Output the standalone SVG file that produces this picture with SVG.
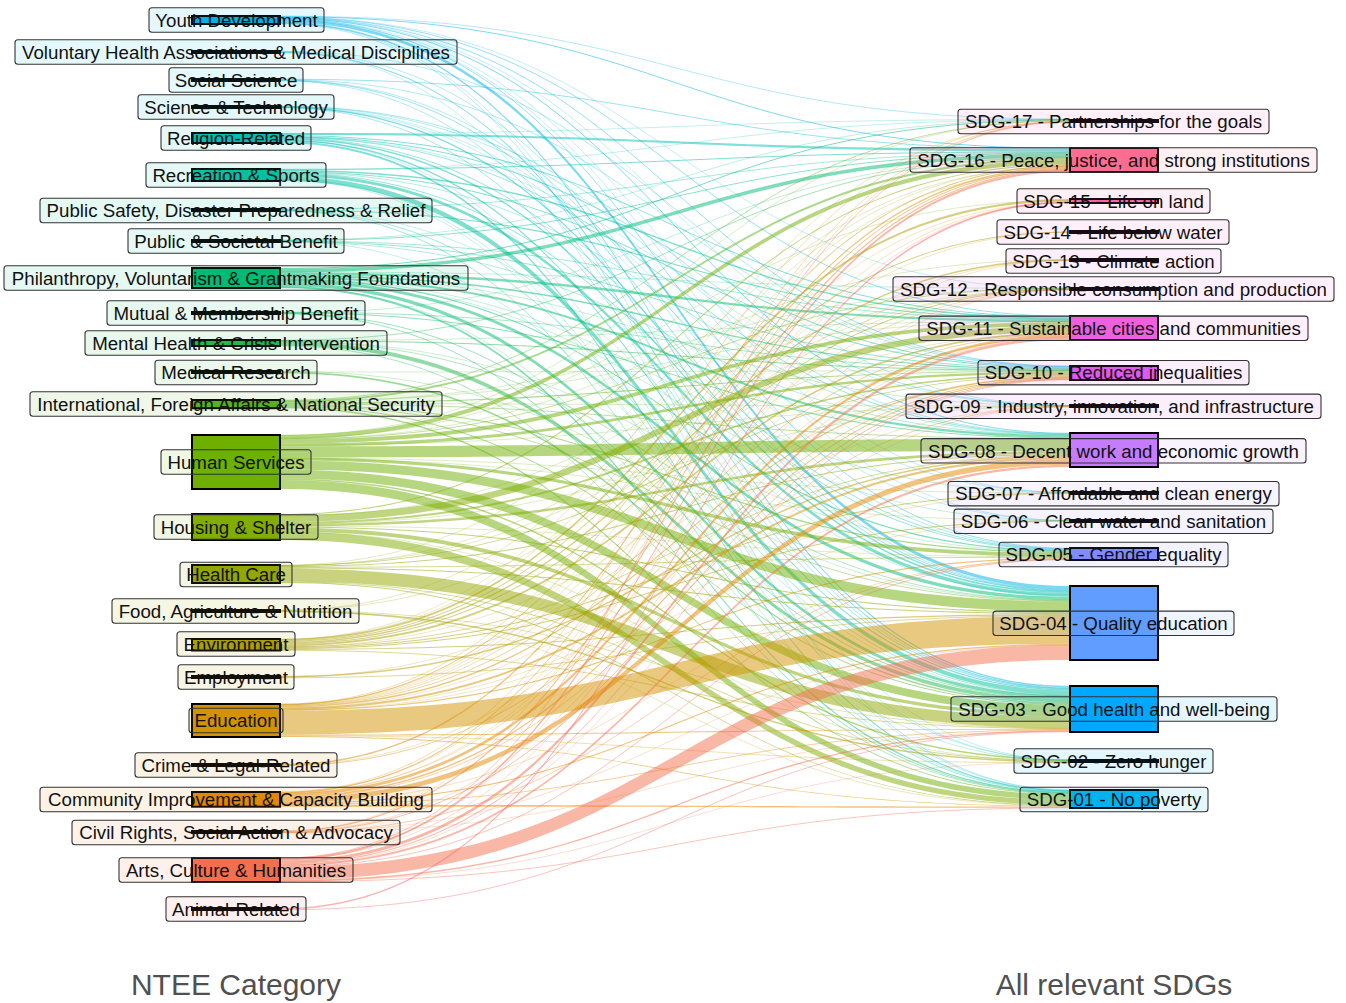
<svg xmlns="http://www.w3.org/2000/svg" width="1346" height="1003" viewBox="0 0 1346 1003">
<style>
.r{fill:currentColor;fill-opacity:.5;stroke:none}
.t{fill:none;stroke:currentColor;stroke-opacity:.5}
.h{fill:none;stroke:currentColor;stroke-opacity:.4;stroke-width:.6}
.n{stroke:#000;stroke-width:2}
.lb{stroke:#333;stroke-width:1.1;fill-opacity:.1}
.tx{font-family:"Liberation Sans",Arial,Helvetica,sans-serif;font-size:18.7px;fill:#111;text-anchor:middle}
.ax{font-family:"Liberation Sans",Arial,Helvetica,sans-serif;font-size:30px;fill:#505050;text-anchor:middle}
</style>
<rect width="1346" height="1003" fill="#fff"/>
<g id="connectors">
<g style="color:#00B2E6">
<path class="t" stroke-width=".6" d="M280 16.15C675 16.15 675 119.15 1070 119.15"/>
<path class="t" stroke-width="1" d="M280 16.65C675 16.65 675 148.38 1070 148.38"/>
<path class="t" stroke-width=".8" d="M280 17.25C675 17.25 675 316.23 1070 316.23"/>
<path class="t" stroke-width=".8" d="M280 17.75C675 17.75 675 366.19 1070 366.19"/>
<path class="t" stroke-width="1" d="M280 18.35C675 18.35 675 433.39 1070 433.39"/>
<path class="t" stroke-width=".8" d="M280 18.95C675 18.95 675 548.33 1070 548.33"/>
<path class="r" d="M280 19.2C675 19.2 675 586 1070 586L1070 589.48C675 589.48 675 22.2 280 22.2Z"/>
<path class="r" d="M280 22.2C675 22.2 675 686 1070 686L1070 687.34C675 687.34 675 23.7 280 23.7Z"/>
<path class="t" stroke-width=".6" d="M280 23.85C675 23.85 675 790.09 1070 790.09"/>
<path class="h" d="M280 17C675 17 675 289 1070 289"/>
<path class="h" d="M280 18C675 18 675 405.6 1070 405.6"/>
<path class="h" d="M280 19C675 19 675 492.6 1070 492.6"/>
<path class="h" d="M280 20C675 20 675 520.6 1070 520.6"/>
<path class="h" d="M280 23C675 23 675 760.4 1070 760.4"/>
</g>
<g style="color:#00B6E2">
<path class="t" stroke-width=".6" d="M280 51.3C675 51.3 675 366.5 1070 366.5"/>
<path class="t" stroke-width=".6" d="M280 51.7C675 51.7 675 589.66 1070 589.66"/>
<path class="r" d="M280 51.9C675 51.9 675 687.34 1070 687.34L1070 688.42C675 688.42 675 53.1 280 53.1Z"/>
<path class="h" d="M280 52C675 52 675 790.5 1070 790.5"/>
</g>
<g style="color:#00BAD6">
<path class="t" stroke-width=".8" d="M280 79.25C675 79.25 675 149.03 1070 149.03"/>
<path class="t" stroke-width=".6" d="M280 79.7C675 79.7 675 366.73 1070 366.73"/>
<path class="t" stroke-width=".6" d="M280 80C675 80 675 548.85 1070 548.85"/>
<path class="t" stroke-width=".8" d="M280 80.4C675 80.4 675 590.12 1070 590.12"/>
<path class="t" stroke-width=".6" d="M280 80.8C675 80.8 675 688.55 1070 688.55"/>
</g>
<g style="color:#00BCC8">
<path class="t" stroke-width=".7" d="M280 106.2C675 106.2 675 405.5 1070 405.5"/>
<path class="t" stroke-width=".6" d="M280 106.55C675 106.55 675 433.94 1070 433.94"/>
<path class="t" stroke-width="1.1" d="M280 107.1C675 107.1 675 590.88 1070 590.88"/>
<path class="t" stroke-width=".7" d="M280 107.7C675 107.7 675 688.86 1070 688.86"/>
<path class="h" d="M280 107C675 107 675 492.4 1070 492.4"/>
<path class="h" d="M280 107.5C675 107.5 675 520.4 1070 520.4"/>
</g>
<g style="color:#00BFB4">
<path class="r" d="M280 133C675 133 675 149.3 1070 149.3L1070 151.46C675 151.46 675 135 280 135Z"/>
<path class="r" d="M280 135C675 135 675 316.46 1070 316.46L1070 317.36C675 317.36 675 136 280 136Z"/>
<path class="r" d="M280 136C675 136 675 366.84 1070 366.84L1070 367.6C675 367.6 675 137 280 137Z"/>
<path class="t" stroke-width=".8" d="M280 137.25C675 137.25 675 434.38 1070 434.38"/>
<path class="t" stroke-width=".8" d="M280 137.75C675 137.75 675 549.37 1070 549.37"/>
<path class="r" d="M280 138C675 138 675 591.35 1070 591.35L1070 593.09C675 593.09 675 139.5 280 139.5Z"/>
<path class="r" d="M280 139.5C675 139.5 675 689.04 1070 689.04L1070 690.38C675 690.38 675 141 280 141Z"/>
<path class="r" d="M280 141C675 141 675 790.18 1070 790.18L1070 791.42C675 791.42 675 143 280 143Z"/>
<path class="h" d="M280 134C675 134 675 119.3 1070 119.3"/>
<path class="h" d="M280 137C675 137 675 405.7 1070 405.7"/>
<path class="h" d="M280 140C675 140 675 760.5 1070 760.5"/>
</g>
<g style="color:#00C1A2">
<path class="t" stroke-width="1" d="M280 169.35C675 169.35 675 151.84 1070 151.84"/>
<path class="r" d="M280 169.7C675 169.7 675 317.37 1070 317.37L1070 318.73C675 318.73 675 171.2 280 171.2Z"/>
<path class="r" d="M280 171.2C675 171.2 675 367.61 1070 367.61L1070 368.37C675 368.37 675 172.2 280 172.2Z"/>
<path class="t" stroke-width=".6" d="M280 172.35C675 172.35 675 434.83 1070 434.83"/>
<path class="t" stroke-width=".8" d="M280 172.75C675 172.75 675 550.02 1070 550.02"/>
<path class="r" d="M280 173C675 173 675 593.09 1070 593.09L1070 596.57C675 596.57 675 176 280 176Z"/>
<path class="r" d="M280 176C675 176 675 690.38 1070 690.38L1070 694.86C675 694.86 675 181 280 181Z"/>
<path class="h" d="M280 170C675 170 675 119.6 1070 119.6"/>
<path class="h" d="M280 179C675 179 675 760.3 1070 760.3"/>
<path class="h" d="M280 180C675 180 675 791 1070 791"/>
</g>
<g style="color:#00C094">
<path class="t" stroke-width=".7" d="M280 209.2C675 209.2 675 152.43 1070 152.43"/>
<path class="t" stroke-width="1.1" d="M280 209.8C675 209.8 675 319.09 1070 319.09"/>
<path class="t" stroke-width=".7" d="M280 210.4C675 210.4 675 695.04 1070 695.04"/>
<path class="t" stroke-width=".7" d="M280 210.8C675 210.8 675 791.55 1070 791.55"/>
<path class="h" d="M280 210C675 210 675 595 1070 595"/>
</g>
<g style="color:#00BF86">
<path class="t" stroke-width=".5" d="M280 240.1C675 240.1 675 119.4 1070 119.4"/>
<path class="t" stroke-width=".9" d="M280 240.5C675 240.5 675 152.97 1070 152.97"/>
<path class="t" stroke-width=".7" d="M280 241C675 241 675 319.64 1070 319.64"/>
<path class="t" stroke-width=".8" d="M280 241.45C675 241.45 675 368.56 1070 368.56"/>
<path class="t" stroke-width=".6" d="M280 241.85C675 241.85 675 435.16 1070 435.16"/>
<path class="h" d="M280 241C675 241 675 696 1070 696"/>
</g>
<g style="color:#00BC74">
<path class="r" d="M280 268C675 268 675 119.5 1070 119.5L1070 120.5C675 120.5 675 269 280 269Z"/>
<path class="r" d="M280 269C675 269 675 153.3 1070 153.3L1070 157.08C675 157.08 675 272.5 280 272.5Z"/>
<path class="r" d="M280 272.5C675 272.5 675 319.81 1070 319.81L1070 322.09C675 322.09 675 275 280 275Z"/>
<path class="r" d="M280 275C675 275 675 368.76 1070 368.76L1070 369.9C675 369.9 675 276.5 280 276.5Z"/>
<path class="r" d="M280 276.5C675 276.5 675 435.32 1070 435.32L1070 437.54C675 437.54 675 278.5 280 278.5Z"/>
<path class="r" d="M280 278.5C675 278.5 675 550.35 1070 550.35L1070 551.65C675 551.65 675 279.5 280 279.5Z"/>
<path class="r" d="M280 279.5C675 279.5 675 596.58 1070 596.58L1070 600.06C675 600.06 675 282.5 280 282.5Z"/>
<path class="r" d="M280 282.5C675 282.5 675 695.21 1070 695.21L1070 698.35C675 698.35 675 286 280 286Z"/>
<path class="r" d="M280 286C675 286 675 791.67 1070 791.67L1070 792.91C675 792.91 675 288 280 288Z"/>
<path class="h" d="M280 272C675 272 675 288.4 1070 288.4"/>
<path class="h" d="M280 276C675 276 675 405.8 1070 405.8"/>
<path class="h" d="M280 279C675 279 675 492.6 1070 492.6"/>
<path class="h" d="M280 280C675 280 675 520.7 1070 520.7"/>
<path class="h" d="M280 287C675 287 675 760.6 1070 760.6"/>
</g>
<g style="color:#0BBA62">
<path class="t" stroke-width=".7" d="M280 312.2C675 312.2 675 370.05 1070 370.05"/>
<path class="t" stroke-width=".9" d="M280 312.7C675 312.7 675 437.87 1070 437.87"/>
<path class="t" stroke-width=".8" d="M280 313.25C675 313.25 675 698.57 1070 698.57"/>
<path class="t" stroke-width=".8" d="M280 313.75C675 313.75 675 793.06 1070 793.06"/>
<path class="h" d="M280 313C675 313 675 157 1070 157"/>
</g>
<g style="color:#22B84E">
<path class="t" stroke-width=".8" d="M280 340.25C675 340.25 675 157.35 1070 157.35"/>
<path class="t" stroke-width="1" d="M280 340.85C675 340.85 675 370.48 1070 370.48"/>
<path class="t" stroke-width=".7" d="M280 341.4C675 341.4 675 600.29 1070 600.29"/>
<path class="r" d="M280 341.6C675 341.6 675 698.8 1070 698.8L1070 702.38C675 702.38 675 345.6 280 345.6Z"/>
<path class="t" stroke-width=".7" d="M280 345.8C675 345.8 675 793.34 1070 793.34"/>
<path class="h" d="M280 340.5C675 340.5 675 321.5 1070 321.5"/>
<path class="h" d="M280 341C675 341 675 551.8 1070 551.8"/>
</g>
<g style="color:#40B638">
<path class="t" stroke-width=".5" d="M280 371.2C675 371.2 675 600.64 1070 600.64"/>
<path class="r" d="M280 371.4C675 371.4 675 702.37 1070 702.37L1070 703.99C675 703.99 675 373.2 280 373.2Z"/>
<path class="h" d="M280 372C675 372 675 370.8 1070 370.8"/>
</g>
<g style="color:#58B31E">
<path class="t" stroke-width=".8" d="M280 400.25C675 400.25 675 120.75 1070 120.75"/>
<path class="r" d="M280 400.5C675 400.5 675 157.62 1070 157.62L1070 159.78C675 159.78 675 402.5 280 402.5Z"/>
<path class="r" d="M280 402.5C675 402.5 675 370.75 1070 370.75L1070 371.51C675 371.51 675 403.5 280 403.5Z"/>
<path class="t" stroke-width=".5" d="M280 403.6C675 403.6 675 406 1070 406"/>
<path class="t" stroke-width=".8" d="M280 403.95C675 403.95 675 438.48 1070 438.48"/>
<path class="r" d="M280 404.2C675 404.2 675 551.65 1070 551.65L1070 552.95C675 552.95 675 405.2 280 405.2Z"/>
<path class="t" stroke-width=".8" d="M280 405.45C675 405.45 675 601.05 1070 601.05"/>
<path class="r" d="M280 405.7C675 405.7 675 703.99 1070 703.99L1070 704.89C675 704.89 675 406.7 280 406.7Z"/>
<path class="r" d="M280 406.7C675 406.7 675 793.47 1070 793.47L1070 794.39C675 794.39 675 408.2 280 408.2Z"/>
<path class="h" d="M280 401C675 401 675 321 1070 321"/>
<path class="h" d="M280 402C675 402 675 288.3 1070 288.3"/>
</g>
<g style="color:#6DB000">
<path class="r" d="M280 435C675 435 675 159.78 1070 159.78L1070 164.1C675 164.1 675 439 280 439Z"/>
<path class="t" stroke-width=".8" d="M280 439.25C675 439.25 675 288.2 1070 288.2"/>
<path class="r" d="M280 439.5C675 439.5 675 322.09 1070 322.09L1070 325.73C675 325.73 675 443.5 280 443.5Z"/>
<path class="r" d="M280 443.5C675 443.5 675 371.51 1070 371.51L1070 373.81C675 373.81 675 446.5 280 446.5Z"/>
<path class="r" d="M280 446.5C675 446.5 675 438.76 1070 438.76L1070 450.94C675 450.94 675 457.5 280 457.5Z"/>
<path class="r" d="M280 457.5C675 457.5 675 552.95 1070 552.95L1070 556.87C675 556.87 675 460.5 280 460.5Z"/>
<path class="r" d="M280 460.5C675 460.5 675 601.34 1070 601.34L1070 611.8C675 611.8 675 469.5 280 469.5Z"/>
<path class="r" d="M280 469.5C675 469.5 675 704.88 1070 704.88L1070 712.94C675 712.94 675 478.5 280 478.5Z"/>
<path class="r" d="M280 478.5C675 478.5 675 759.15 1070 759.15L1070 760.65C675 760.65 675 480 280 480Z"/>
<path class="r" d="M280 480C675 480 675 794.39 1070 794.39L1070 799.97C675 799.97 675 489 280 489Z"/>
<path class="h" d="M280 435.3C675 435.3 675 120.3 1070 120.3"/>
<path class="h" d="M280 438C675 438 675 200.5 1070 200.5"/>
<path class="h" d="M280 439C675 439 675 259.6 1070 259.6"/>
<path class="h" d="M280 445C675 445 675 406.2 1070 406.2"/>
<path class="h" d="M280 458C675 458 675 493.2 1070 493.2"/>
<path class="h" d="M280 459C675 459 675 520.8 1070 520.8"/>
</g>
<g style="color:#82AC00">
<path class="r" d="M280 514C675 514 675 164.11 1070 164.11L1070 165.19C675 165.19 675 515 280 515Z"/>
<path class="r" d="M280 515C675 515 675 325.73 1070 325.73L1070 332.09C675 332.09 675 522 280 522Z"/>
<path class="r" d="M280 522C675 522 675 373.81 1070 373.81L1070 375.34C675 375.34 675 524 280 524Z"/>
<path class="r" d="M280 524C675 524 675 450.94 1070 450.94L1070 453.7C675 453.7 675 526.5 280 526.5Z"/>
<path class="r" d="M280 526.5C675 526.5 675 611.8 1070 611.8L1070 612.96C675 612.96 675 527.5 280 527.5Z"/>
<path class="r" d="M280 527.5C675 527.5 675 712.94 1070 712.94L1070 716.52C675 716.52 675 531.5 280 531.5Z"/>
<path class="r" d="M280 531.5C675 531.5 675 799.96 1070 799.96L1070 805.22C675 805.22 675 540 280 540Z"/>
<path class="h" d="M280 516C675 516 675 289.4 1070 289.4"/>
<path class="h" d="M280 524C675 524 675 406.3 1070 406.3"/>
<path class="h" d="M280 526C675 526 675 556.9 1070 556.9"/>
<path class="h" d="M280 532C675 532 675 761.2 1070 761.2"/>
</g>
<g style="color:#94A700">
<path class="r" d="M280 565C675 565 675 375.34 1070 375.34L1070 376.1C675 376.1 675 566 280 566Z"/>
<path class="r" d="M280 566C675 566 675 453.7 1070 453.7L1070 454.8C675 454.8 675 567 280 567Z"/>
<path class="t" stroke-width=".8" d="M280 567.25C675 567.25 675 557.19 1070 557.19"/>
<path class="r" d="M280 567.5C675 567.5 675 612.96 1070 612.96L1070 614.12C675 614.12 675 568.5 280 568.5Z"/>
<path class="r" d="M280 568.5C675 568.5 675 716.52 1070 716.52L1070 728.16C675 728.16 675 581.5 280 581.5Z"/>
<path class="t" stroke-width=".8" d="M280 581.75C675 581.75 675 760.9 1070 760.9"/>
<path class="r" d="M280 582C675 582 675 805.22 1070 805.22L1070 805.84C675 805.84 675 583 280 583Z"/>
<path class="h" d="M280 565.2C675 565.2 675 166.5 1070 166.5"/>
<path class="h" d="M280 565.5C675 565.5 675 333.5 1070 333.5"/>
<path class="h" d="M280 566C675 566 675 289.6 1070 289.6"/>
</g>
<g style="color:#A2A300">
<path class="t" stroke-width=".5" d="M280 610.2C675 610.2 675 288.6 1070 288.6"/>
<path class="t" stroke-width=".6" d="M280 610.6C675 610.6 675 728.29 1070 728.29"/>
<path class="r" d="M280 610.65C675 610.65 675 761.15 1070 761.15L1070 762.65C675 762.65 675 612.15 280 612.15Z"/>
<path class="h" d="M280 611C675 611 675 806 1070 806"/>
<path class="h" d="M280 610.4C675 610.4 675 166 1070 166"/>
</g>
<g style="color:#AEA000">
<path class="r" d="M280 639C675 639 675 199 1070 199L1070 201.28C675 201.28 675 641 280 641Z"/>
<path class="r" d="M280 641C675 641 675 231.5 1070 231.5L1070 232.5C675 232.5 675 642 280 642Z"/>
<path class="r" d="M280 642C675 642 675 259.25 1070 259.25L1070 260.75C675 260.75 675 643.5 280 643.5Z"/>
<path class="r" d="M280 643.5C675 643.5 675 288.7 1070 288.7L1070 289.7C675 289.7 675 644.5 280 644.5Z"/>
<path class="r" d="M280 644.5C675 644.5 675 332.09 1070 332.09L1070 333.91C675 333.91 675 646.5 280 646.5Z"/>
<path class="t" stroke-width=".8" d="M280 646.75C675 646.75 675 455.09 1070 455.09"/>
<path class="r" d="M280 647C675 647 675 492.5 1070 492.5L1070 493.5C675 493.5 675 648 280 648Z"/>
<path class="r" d="M280 648C675 648 675 520.5 1070 520.5L1070 521.5C675 521.5 675 649 280 649Z"/>
<path class="r" d="M280 649C675 649 675 614.12 1070 614.12L1070 615.28C675 615.28 675 650 280 650Z"/>
<path class="t" stroke-width=".8" d="M280 650.25C675 650.25 675 728.65 1070 728.65"/>
<path class="h" d="M280 639.5C675 639.5 675 170 1070 170"/>
<path class="h" d="M280 647C675 647 675 379.6 1070 379.6"/>
<path class="h" d="M280 639.2C675 639.2 675 121.9 1070 121.9"/>
</g>
<g style="color:#BC9B00">
<path class="r" d="M280 676C675 676 675 455.36 1070 455.36L1070 457.02C675 457.02 675 677.5 280 677.5Z"/>
<path class="t" stroke-width=".8" d="M280 677.75C675 677.75 675 615.57 1070 615.57"/>
<path class="h" d="M280 677C675 677 675 377 1070 377"/>
</g>
<g style="color:#D29300">
<path class="t" stroke-width=".6" d="M280 704.15C675 704.15 675 121.15 1070 121.15"/>
<path class="r" d="M280 704.3C675 704.3 675 165.19 1070 165.19L1070 166.27C675 166.27 675 705.3 280 705.3Z"/>
<path class="t" stroke-width=".6" d="M280 705.45C675 705.45 675 289.9 1070 289.9"/>
<path class="t" stroke-width=".8" d="M280 705.85C675 705.85 675 334.13 1070 334.13"/>
<path class="r" d="M280 706.1C675 706.1 675 376.1 1070 376.1L1070 377.24C675 377.24 675 707.6 280 707.6Z"/>
<path class="r" d="M280 707.6C675 707.6 675 457.02 1070 457.02L1070 459.24C675 459.24 675 709.6 280 709.6Z"/>
<path class="r" d="M280 709.6C675 709.6 675 557.52 1070 557.52L1070 558.82C675 558.82 675 710.6 280 710.6Z"/>
<path class="r" d="M280 710.6C675 710.6 675 615.87 1070 615.87L1070 643.75C675 643.75 675 734.6 280 734.6Z"/>
<path class="r" d="M280 734.6C675 734.6 675 728.87 1070 728.87L1070 729.77C675 729.77 675 735.6 280 735.6Z"/>
<path class="t" stroke-width=".6" d="M280 735.75C675 735.75 675 762.8 1070 762.8"/>
<path class="r" d="M280 735.9C675 735.9 675 805.84 1070 805.84L1070 806.46C675 806.46 675 736.9 280 736.9Z"/>
<path class="h" d="M280 704.2C675 704.2 675 202.5 1070 202.5"/>
<path class="h" d="M280 704.5C675 704.5 675 232.2 1070 232.2"/>
<path class="h" d="M280 705C675 705 675 260.3 1070 260.3"/>
<path class="h" d="M280 708C675 708 675 406.8 1070 406.8"/>
<path class="h" d="M280 709C675 709 675 493.6 1070 493.6"/>
<path class="h" d="M280 710C675 710 675 521.3 1070 521.3"/>
</g>
<g style="color:#DA8E00">
<path class="r" d="M280 764C675 764 675 166.27 1070 166.27L1070 167.89C675 167.89 675 765.5 280 765.5Z"/>
<path class="t" stroke-width=".8" d="M280 765.75C675 765.75 675 377.44 1070 377.44"/>
<path class="h" d="M280 765C675 765 675 337 1070 337"/>
</g>
<g style="color:#E58700">
<path class="t" stroke-width=".6" d="M280 792.15C675 792.15 675 121.45 1070 121.45"/>
<path class="r" d="M280 792.3C675 792.3 675 167.89 1070 167.89L1070 168.97C675 168.97 675 793.3 280 793.3Z"/>
<path class="r" d="M280 793.3C675 793.3 675 334.37 1070 334.37L1070 337.09C675 337.09 675 796.3 280 796.3Z"/>
<path class="r" d="M280 796.3C675 796.3 675 377.63 1070 377.63L1070 378.77C675 378.77 675 797.8 280 797.8Z"/>
<path class="t" stroke-width=".7" d="M280 798C675 798 675 406.5 1070 406.5"/>
<path class="r" d="M280 798.2C675 798.2 675 459.23 1070 459.23L1070 464.77C675 464.77 675 803.2 280 803.2Z"/>
<path class="r" d="M280 803.2C675 803.2 675 643.75 1070 643.75L1070 644.91C675 644.91 675 804.2 280 804.2Z"/>
<path class="t" stroke-width=".8" d="M280 804.45C675 804.45 675 729.99 1070 729.99"/>
<path class="r" d="M280 804.7C675 804.7 675 806.45 1070 806.45L1070 807.69C675 807.69 675 806.7 280 806.7Z"/>
<path class="h" d="M280 792.1C675 792.1 675 202.8 1070 202.8"/>
<path class="h" d="M280 793C675 793 675 289.8 1070 289.8"/>
<path class="h" d="M280 794C675 794 675 260.5 1070 260.5"/>
<path class="h" d="M280 803C675 803 675 559.4 1070 559.4"/>
</g>
<g style="color:#EE7B2C">
<path class="t" stroke-width="1.1" d="M280 831.4C675 831.4 675 169.4 1070 169.4"/>
<path class="t" stroke-width=".5" d="M280 831.9C675 831.9 675 337.18 1070 337.18"/>
<path class="t" stroke-width=".9" d="M280 832.3C675 832.3 675 379 1070 379"/>
<path class="t" stroke-width=".7" d="M280 832.8C675 832.8 675 559.09 1070 559.09"/>
<path class="h" d="M280 831.2C675 831.2 675 121.6 1070 121.6"/>
<path class="h" d="M280 832.5C675 832.5 675 645 1070 645"/>
<path class="h" d="M280 832.9C675 832.9 675 731.2 1070 731.2"/>
</g>
<g style="color:#F3704E">
<path class="t" stroke-width=".8" d="M280 858.25C675 858.25 675 121.85 1070 121.85"/>
<path class="r" d="M280 858.5C675 858.5 675 169.84 1070 169.84L1070 172C675 172 675 860.5 280 860.5Z"/>
<path class="r" d="M280 860.5C675 860.5 675 337.27 1070 337.27L1070 340C675 340 675 863.5 280 863.5Z"/>
<path class="r" d="M280 863.5C675 863.5 675 379.24 1070 379.24L1070 380C675 380 675 864.5 280 864.5Z"/>
<path class="r" d="M280 864.5C675 864.5 675 464.77 1070 464.77L1070 466.99C675 466.99 675 866.5 280 866.5Z"/>
<path class="t" stroke-width=".8" d="M280 866.75C675 866.75 675 559.67 1070 559.67"/>
<path class="r" d="M280 867C675 867 675 644.92 1070 644.92L1070 660.02C675 660.02 675 880 280 880Z"/>
<path class="r" d="M280 880C675 880 675 730.21 1070 730.21L1070 731.55C675 731.55 675 881.5 280 881.5Z"/>
<path class="t" stroke-width=".8" d="M280 881.75C675 881.75 675 807.85 1070 807.85"/>
<path class="h" d="M280 858.2C675 858.2 675 202.6 1070 202.6"/>
<path class="h" d="M280 859C675 859 675 289.5 1070 289.5"/>
<path class="h" d="M280 865C675 865 675 406.9 1070 406.9"/>
<path class="h" d="M280 881C675 881 675 762.3 1070 762.3"/>
</g>
<g style="color:#F8696A">
<path class="r" d="M280 908C675 908 675 201.28 1070 201.28L1070 203C675 203 675 909.5 280 909.5Z"/>
<path class="t" stroke-width=".8" d="M280 909.75C675 909.75 675 731.78 1070 731.78"/>
</g>
</g>
<g id="n-youth"><rect class="n" x="192" y="16" width="88" height="8" fill="#00B2E6"/><rect class="lb" x="149" y="7.8" width="175" height="24.4" rx="3" fill="#00B2E6"/><text class="tx" x="236.5" y="26.7">Youth Development</text></g>
<g id="n-voluntary"><rect class="n" x="192" y="51" width="88" height="2" fill="#00B6E2"/><rect class="lb" x="15" y="39.8" width="442" height="24.4" rx="3" fill="#00B6E2"/><text class="tx" x="236" y="58.7">Voluntary Health Associations &amp; Medical Disciplines</text></g>
<g id="n-social"><rect class="n" x="192" y="79" width="88" height="2" fill="#00BAD6"/><rect class="lb" x="169" y="67.8" width="134" height="24.4" rx="3" fill="#00BAD6"/><text class="tx" x="236" y="86.7">Social Science</text></g>
<g id="n-science"><rect class="n" x="192" y="106" width="88" height="2" fill="#00BCC8"/><rect class="lb" x="138" y="94.8" width="196" height="24.4" rx="3" fill="#00BCC8"/><text class="tx" x="236" y="113.7">Science &amp; Technology</text></g>
<g id="n-religion"><rect class="n" x="192" y="133" width="88" height="10" fill="#00BFB4"/><rect class="lb" x="161" y="125.8" width="150" height="24.4" rx="3" fill="#00BFB4"/><text class="tx" x="236" y="144.7">Religion-Related</text></g>
<g id="n-recreation"><rect class="n" x="192" y="169" width="88" height="12" fill="#00C1A2"/><rect class="lb" x="146" y="162.8" width="180" height="24.4" rx="3" fill="#00C1A2"/><text class="tx" x="236" y="181.7">Recreation &amp; Sports</text></g>
<g id="n-publicsafety"><rect class="n" x="192" y="209" width="88" height="2" fill="#00C094"/><rect class="lb" x="40" y="198.3" width="392" height="24.4" rx="3" fill="#00C094"/><text class="tx" x="236" y="217.2">Public Safety, Disaster Preparedness &amp; Relief</text></g>
<g id="n-publicbenefit"><rect class="n" x="192" y="240" width="88" height="2" fill="#00BF86"/><rect class="lb" x="128" y="228.8" width="216" height="24.4" rx="3" fill="#00BF86"/><text class="tx" x="236" y="247.7">Public &amp; Societal Benefit</text></g>
<g id="n-philanthropy"><rect class="n" x="192" y="268" width="88" height="20" fill="#00BC74"/><rect class="lb" x="4" y="265.8" width="464" height="24.4" rx="3" fill="#00BC74"/><text class="tx" x="236" y="284.7">Philanthropy, Voluntarism &amp; Grantmaking Foundations</text></g>
<g id="n-mutual"><rect class="n" x="192" y="312" width="88" height="2" fill="#0BBA62"/><rect class="lb" x="107" y="300.8" width="258" height="24.4" rx="3" fill="#0BBA62"/><text class="tx" x="236" y="319.7">Mutual &amp; Membership Benefit</text></g>
<g id="n-mental"><rect class="n" x="192" y="340" width="88" height="6" fill="#22B84E"/><rect class="lb" x="85" y="330.8" width="302" height="24.4" rx="3" fill="#22B84E"/><text class="tx" x="236" y="349.7">Mental Health &amp; Crisis Intervention</text></g>
<g id="n-medical"><rect class="n" x="192" y="371" width="88" height="2" fill="#40B638"/><rect class="lb" x="155" y="360.3" width="162" height="24.4" rx="3" fill="#40B638"/><text class="tx" x="236" y="379.2">Medical Research</text></g>
<g id="n-international"><rect class="n" x="192" y="400" width="88" height="8.2" fill="#58B31E"/><rect class="lb" x="30" y="391.8" width="412" height="24.4" rx="3" fill="#58B31E"/><text class="tx" x="236" y="410.7">International, Foreign Affairs &amp; National Security</text></g>
<g id="n-human"><rect class="n" x="192" y="435" width="88" height="54" fill="#6DB000"/><rect class="lb" x="161" y="449.8" width="150" height="24.4" rx="3" fill="#6DB000"/><text class="tx" x="236" y="468.7">Human Services</text></g>
<g id="n-housing"><rect class="n" x="192" y="514" width="88" height="26" fill="#82AC00"/><rect class="lb" x="154" y="514.8" width="164" height="24.4" rx="3" fill="#82AC00"/><text class="tx" x="236" y="533.7">Housing &amp; Shelter</text></g>
<g id="n-health"><rect class="n" x="192" y="565" width="88" height="18" fill="#94A700"/><rect class="lb" x="180" y="562.3" width="112" height="24.4" rx="3" fill="#94A700"/><text class="tx" x="236" y="581.2">Health Care</text></g>
<g id="n-food"><rect class="n" x="192" y="610" width="88" height="2" fill="#A2A300"/><rect class="lb" x="112" y="598.8" width="247" height="24.4" rx="3" fill="#A2A300"/><text class="tx" x="235.5" y="617.7">Food, Agriculture &amp; Nutrition</text></g>
<g id="n-environment"><rect class="n" x="192" y="639" width="88" height="11.5" fill="#AEA000"/><rect class="lb" x="177" y="631.8" width="118" height="24.4" rx="3" fill="#AEA000"/><text class="tx" x="236" y="650.7">Environment</text></g>
<g id="n-employment"><rect class="n" x="192" y="676" width="88" height="2" fill="#BC9B00"/><rect class="lb" x="178" y="664.8" width="116" height="24.4" rx="3" fill="#BC9B00"/><text class="tx" x="236" y="683.7">Employment</text></g>
<g id="n-education"><rect class="n" x="192" y="704" width="88" height="33" fill="#D29300"/><rect class="lb" x="189" y="708.3" width="94" height="24.4" rx="3" fill="#D29300"/><text class="tx" x="236" y="727.2">Education</text></g>
<g id="n-crime"><rect class="n" x="192" y="764" width="88" height="2" fill="#DA8E00"/><rect class="lb" x="135" y="752.8" width="202" height="24.4" rx="3" fill="#DA8E00"/><text class="tx" x="236" y="771.7">Crime &amp; Legal-Related</text></g>
<g id="n-community"><rect class="n" x="192" y="792" width="88" height="14.7" fill="#E58700"/><rect class="lb" x="40" y="787.3" width="392" height="24.4" rx="3" fill="#E58700"/><text class="tx" x="236" y="806.2">Community Improvement &amp; Capacity Building</text></g>
<g id="n-civil"><rect class="n" x="192" y="831" width="88" height="2" fill="#EE7B2C"/><rect class="lb" x="72" y="820.3" width="328" height="24.4" rx="3" fill="#EE7B2C"/><text class="tx" x="236" y="839.2">Civil Rights, Social Action &amp; Advocacy</text></g>
<g id="n-arts"><rect class="n" x="192" y="858" width="88" height="24" fill="#F3704E"/><rect class="lb" x="119" y="857.8" width="234" height="24.4" rx="3" fill="#F3704E"/><text class="tx" x="236" y="876.7">Arts, Culture &amp; Humanities</text></g>
<g id="n-animal"><rect class="n" x="192" y="908" width="88" height="2" fill="#F8696A"/><rect class="lb" x="166" y="896.8" width="140" height="24.4" rx="3" fill="#F8696A"/><text class="tx" x="236" y="915.7">Animal-Related</text></g>
<g id="n-sdg17"><rect class="n" x="1070" y="120" width="88" height="2" fill="#FF62BC"/><rect class="lb" x="958" y="109.3" width="311" height="24.4" rx="3" fill="#FF62BC"/><text class="tx" x="1113.5" y="128.2">SDG-17 - Partnerships for the goals</text></g>
<g id="n-sdg16"><rect class="n" x="1070" y="148" width="88" height="24" fill="#FF6C91"/><rect class="lb" x="910" y="147.8" width="407" height="24.4" rx="3" fill="#FF6C91"/><text class="tx" x="1113.5" y="166.7">SDG-16 - Peace, justice, and strong institutions</text></g>
<g id="n-sdg15"><rect class="n" x="1070" y="199" width="88" height="4" fill="#FF64A8"/><rect class="lb" x="1017" y="188.8" width="193" height="24.4" rx="3" fill="#FF64A8"/><text class="tx" x="1113.5" y="207.7">SDG-15 - Life on land</text></g>
<g id="n-sdg14"><rect class="n" x="1070" y="231" width="88" height="2" fill="#FC61D0"/><rect class="lb" x="997" y="219.8" width="232" height="24.4" rx="3" fill="#FC61D0"/><text class="tx" x="1113" y="238.7">SDG-14 - Life below water</text></g>
<g id="n-sdg13"><rect class="n" x="1070" y="259" width="88" height="2" fill="#F763DE"/><rect class="lb" x="1006" y="248.8" width="215" height="24.4" rx="3" fill="#F763DE"/><text class="tx" x="1113.5" y="267.7">SDG-13 - Climate action</text></g>
<g id="n-sdg12"><rect class="n" x="1070" y="288" width="88" height="2" fill="#F066E6"/><rect class="lb" x="893" y="276.8" width="441" height="24.4" rx="3" fill="#F066E6"/><text class="tx" x="1113.5" y="295.7">SDG-12 - Responsible consumption and production</text></g>
<g id="n-sdg11"><rect class="n" x="1070" y="316" width="88" height="24" fill="#F060E0"/><rect class="lb" x="919" y="316.1" width="389" height="24.4" rx="3" fill="#F060E0"/><text class="tx" x="1113.5" y="335">SDG-11 - Sustainable cities and communities</text></g>
<g id="n-sdg10"><rect class="n" x="1070" y="366" width="88" height="14" fill="#DE5BEF"/><rect class="lb" x="978" y="360.5" width="271" height="24.4" rx="3" fill="#DE5BEF"/><text class="tx" x="1113.5" y="379.4">SDG-10 - Reduced inequalities</text></g>
<g id="n-sdg09"><rect class="n" x="1070" y="405" width="88" height="2" fill="#D466F5"/><rect class="lb" x="906" y="394.1" width="415" height="24.4" rx="3" fill="#D466F5"/><text class="tx" x="1113.5" y="413">SDG-09 - Industry, innovation, and infrastructure</text></g>
<g id="n-sdg08"><rect class="n" x="1070" y="433" width="88" height="34" fill="#C77CFF"/><rect class="lb" x="921" y="438.6" width="385" height="24.4" rx="3" fill="#C77CFF"/><text class="tx" x="1113.5" y="457.5">SDG-08 - Decent work and economic growth</text></g>
<g id="n-sdg07"><rect class="n" x="1070" y="492" width="88" height="2" fill="#B385FF"/><rect class="lb" x="948" y="481.5" width="331" height="24.4" rx="3" fill="#B385FF"/><text class="tx" x="1113.5" y="500.4">SDG-07 - Affordable and clean energy</text></g>
<g id="n-sdg06"><rect class="n" x="1070" y="520" width="88" height="2" fill="#9E8CFF"/><rect class="lb" x="954" y="509.1" width="319" height="24.4" rx="3" fill="#9E8CFF"/><text class="tx" x="1113.5" y="528">SDG-06 - Clean water and sanitation</text></g>
<g id="n-sdg05"><rect class="n" x="1070" y="548" width="88" height="12" fill="#7F8CFF"/><rect class="lb" x="999" y="542.3" width="229" height="24.4" rx="3" fill="#7F8CFF"/><text class="tx" x="1113.5" y="561.2">SDG-05 - Gender equality</text></g>
<g id="n-sdg04"><rect class="n" x="1070" y="586" width="88" height="74" fill="#619CFF"/><rect class="lb" x="993" y="611.1" width="241" height="24.4" rx="3" fill="#619CFF"/><text class="tx" x="1113.5" y="630">SDG-04 - Quality education</text></g>
<g id="n-sdg03"><rect class="n" x="1070" y="686" width="88" height="46" fill="#00A9FF"/><rect class="lb" x="951" y="696.8" width="326" height="24.4" rx="3" fill="#00A9FF"/><text class="tx" x="1114" y="715.7">SDG-03 - Good health and well-being</text></g>
<g id="n-sdg02"><rect class="n" x="1070" y="760" width="88" height="2" fill="#00B0F6"/><rect class="lb" x="1014" y="748.8" width="199" height="24.4" rx="3" fill="#00B0F6"/><text class="tx" x="1113.5" y="767.7">SDG-02 - Zero hunger</text></g>
<g id="n-sdg01"><rect class="n" x="1070" y="790" width="88" height="18" fill="#00B4F0"/><rect class="lb" x="1020" y="787.3" width="188" height="24.4" rx="3" fill="#00B4F0"/><text class="tx" x="1114" y="806.2">SDG-01 - No poverty</text></g>
<text class="ax" x="236" y="995">NTEE Category</text>
<text class="ax" x="1114" y="995">All relevant SDGs</text>
</svg>
